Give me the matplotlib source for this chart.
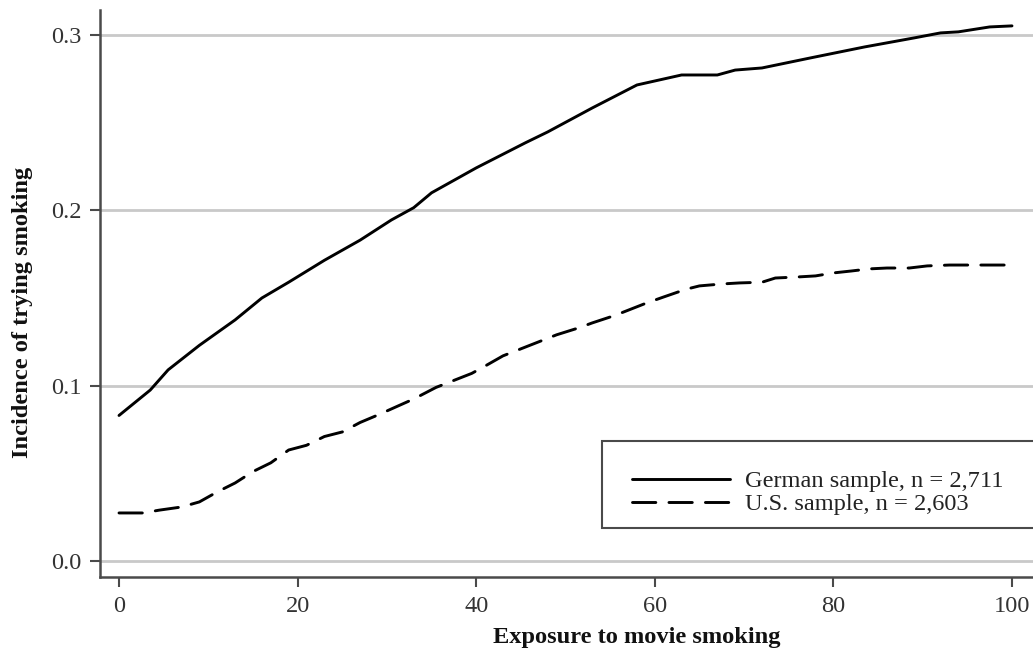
import matplotlib
matplotlib.use("Agg")
import matplotlib.pyplot as plt
from matplotlib.patches import Rectangle

german_x = [0, 3.5, 5.5, 9, 13, 16, 19, 23, 27, 30.5, 33, 35, 40, 45.5, 48, 53, 58,
            63, 67, 69, 72, 77.5, 83.5, 89, 92, 94, 97.5, 100]
german_y = [0.083, 0.0975, 0.109, 0.123, 0.1375, 0.150, 0.159, 0.1715, 0.183, 0.1945,
            0.2015, 0.210, 0.2242, 0.2385, 0.2447, 0.2584, 0.2715, 0.2772, 0.2772, 0.280,
            0.2812, 0.287, 0.2932, 0.2983, 0.3012, 0.3018, 0.3046, 0.3052]

us_x = [0, 2.7, 4.5, 7, 9, 11, 13, 15, 17, 19, 21, 23, 25, 27, 29, 31.5, 33, 35.5, 37,
        39.5, 41, 43, 45, 47.5, 49, 51.5, 53, 55.5, 57, 59, 61, 63.5, 65, 67.5, 69.5,
        72, 73.5, 76, 78, 80, 82, 84, 86, 88.5, 90.5, 93, 97, 100]
us_y = [0.0274, 0.0274, 0.029, 0.0308, 0.0337, 0.0394, 0.0445, 0.051, 0.056, 0.0633,
        0.066, 0.071, 0.0736, 0.079, 0.0833, 0.089, 0.0924, 0.099, 0.102, 0.107, 0.1112,
        0.117, 0.121, 0.126, 0.129, 0.133, 0.1358, 0.140, 0.143, 0.147, 0.1506, 0.155,
        0.1569, 0.158, 0.1586, 0.159, 0.1614, 0.162, 0.1626, 0.1643, 0.1654, 0.1666,
        0.1671, 0.1671, 0.1683, 0.1688, 0.1688, 0.1688]

x_ticks = [0, 20, 40, 60, 80, 100]
y_ticks = [0.0, 0.1, 0.2, 0.3]
y_tick_labels = ["0.0", "0.1", "0.2", "0.3"]
labels = ["German sample, n = 2,711", "U.S. sample, n = 2,603"]

W, H = 1033, 652
fig = plt.figure(figsize=(W / 100, H / 100), dpi=100)

# pixel geometry
px_x0, px_x100 = 119, 1012
ppu_x = (px_x100 - px_x0) / 100.0
left_px = 100
xmin = (left_px - px_x0) / ppu_x
xmax = 106
right_px = px_x0 + xmax * ppu_x
py0, py3 = 561, 35
ppu_y = (py0 - py3) / 0.3
bottom_px, top_px = 577, 10
ymin = (py0 - bottom_px) / ppu_y
ymax = (py0 - top_px) / ppu_y

ax = fig.add_axes([left_px / W, (H - bottom_px) / H,
                   (right_px - left_px) / W, (bottom_px - top_px) / H])
ax.set_xlim(xmin, xmax)
ax.set_ylim(ymin, ymax)

font = "Liberation Serif"
fs = 17.6

for yv in y_ticks:
    ax.axhline(yv, color="#c9c9c9", lw=2.0, zorder=1)

ax.plot(german_x, german_y, color="black", lw=2.1, solid_capstyle="round",
        label=labels[0], zorder=3)
ax.plot(us_x, us_y, color="black", lw=2.1, dashes=(8, 4.5), dash_capstyle="round",
        label=labels[1], zorder=3)

for s in ["top", "right"]:
    ax.spines[s].set_visible(False)
for s in ["left", "bottom"]:
    ax.spines[s].set_color("#4a4a4a")
    ax.spines[s].set_linewidth(1.8)

ax.set_xticks(x_ticks)
ax.set_yticks(y_ticks)
ax.set_yticklabels(y_tick_labels)
ax.tick_params(axis="both", direction="out", length=7, width=1.5, color="#4a4a4a",
               labelsize=fs, labelcolor="#333333")
ax.tick_params(axis="y", pad=6)
ax.tick_params(axis="x", pad=6.5)
for lab in ax.get_xticklabels() + ax.get_yticklabels():
    lab.set_fontfamily(font)

fig.text(637 / W, 1 - 637 / H, "Exposure to movie smoking", ha="center", va="center",
         fontsize=fs, fontweight="bold", fontfamily=font, color="#111111")
fig.text(23 / W, 1 - 312 / H, "Incidence of trying smoking", ha="center", va="center",
         rotation=90, fontsize=fs, fontweight="bold", fontfamily=font, color="#111111")

# legend frame (extends beyond the right edge like the reference)
ax.add_patch(Rectangle((602 / W, (H - 528) / H), 500 / W, 87 / H,
                       transform=fig.transFigure, facecolor="white",
                       edgecolor="#4a4a4a", lw=1.5, zorder=4, clip_on=False))

leg = ax.legend(loc="upper left",
                bbox_to_anchor=(632 / W, 1 - 470 / H),
                bbox_transform=fig.transFigure, borderaxespad=0,
                prop={"family": font, "size": fs}, frameon=False,
                handlelength=4.0, handletextpad=0.62, labelspacing=0.05,
                borderpad=0.0)
leg.set_zorder(5)
for t in leg.get_texts():
    t.set_color("#222222")

fig.savefig("out.png", dpi=100)
